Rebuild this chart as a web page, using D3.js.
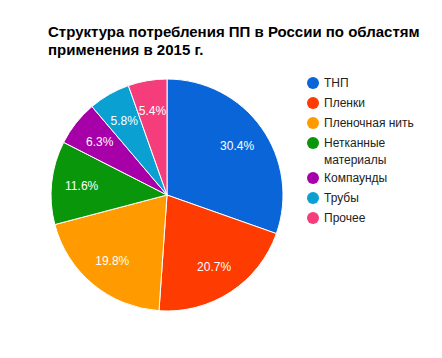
<!DOCTYPE html>
<html><head><meta charset="utf-8">
<script src="https://cdn.jsdelivr.net/npm/d3@7"></script>
<style>body{margin:0;background:#fff;} svg{display:block;}</style>
</head><body>
<svg id="c" width="442" height="358"></svg>
<script>
const categories = ["ТНП","Пленки","Пленочная нить","Нетканные материалы","Компаунды","Трубы","Прочее"];
const legendLines = [["ТНП"],["Пленки"],["Пленочная нить"],["Нетканные","материалы"],["Компаунды"],["Трубы"],["Прочее"]];
const values = [30.4,20.7,19.8,11.6,6.3,5.8,5.4];
const colors = ["#0a66d8","#fe3b00","#ff9b00","#0a960a","#a800a8","#0aa0d2","#f53d7b"];
const titleLines = ["Структура потребления ПП в России по областям","применения в 2015 г."];

const svg = d3.select("#c");
const font = "Arial, 'Liberation Sans', sans-serif";

svg.append("g").selectAll("text").data(titleLines).join("text")
  .attr("x",48).attr("y",(d,i)=>37+i*18)
  .attr("font-family",font).attr("font-weight","bold").attr("font-size",15)
  .attr("fill","#000").text(d=>d);

const cx=167, cy=195, r=116;
const pie = d3.pie().sort(null).value(d=>d)(values);
const arc = d3.arc().innerRadius(0).outerRadius(r);
const labelArc = d3.arc().innerRadius(r*0.74).outerRadius(r*0.74);
const g = svg.append("g").attr("transform",`translate(${cx},${cy})`);
g.selectAll("path").data(pie).join("path")
  .attr("d",arc).attr("fill",(d,i)=>colors[i])
  .attr("stroke","#fff").attr("stroke-width",1);
g.selectAll("text").data(pie).join("text")
  .attr("transform",d=>`translate(${labelArc.centroid(d)})`)
  .attr("text-anchor","middle").attr("dy","0.35em")
  .attr("font-family",font).attr("font-size",12).attr("fill","#fff")
  .text(d=>d.data.toFixed(1)+"%");

const legY=[83,103,123,143,178,198,218];
const lg = svg.append("g");
legendLines.forEach((lines,i)=>{
  lg.append("circle").attr("cx",313).attr("cy",legY[i]).attr("r",6).attr("fill",colors[i]);
  lines.forEach((t,j)=>{
    lg.append("text").attr("x",324).attr("y",legY[i]+j*17).attr("dy","0.35em")
      .attr("font-family",font).attr("font-size",12).attr("fill","#222").text(t);
  });
});
</script>
</body></html>
